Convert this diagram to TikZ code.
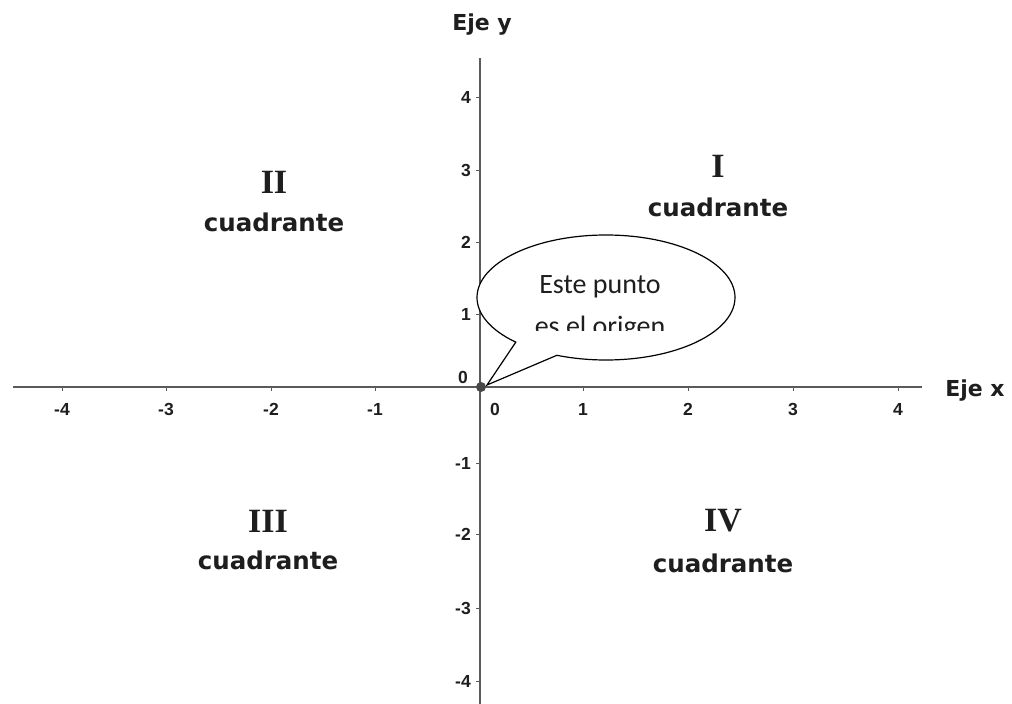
\documentclass[tikz,border=0pt]{standalone}
\usepackage{fontspec}
\newfontfamily\verdfont{DejaVu Sans}
\newfontfamily\arifont{Liberation Sans}
\newfontfamily\tnrfont{Liberation Serif}
\newfontfamily\carlfont{Carlito}
\usetikzlibrary{shapes.callouts}
\definecolor{axisgray}{HTML}{5A5A5A}
\definecolor{ink}{HTML}{1E1E1E}
\tikzset{
  axis/.style={draw=axisgray, line width=1.3pt},
  tick/.style={draw=axisgray, line width=0.9pt},
  ticklab/.style={font=\arifont\bfseries\fontsize{17.5}{17.5}\selectfont, text=ink, inner sep=0pt},
  axlab/.style={font=\verdfont\bfseries\fontsize{22}{22}\selectfont, text=ink, inner sep=0pt},
  roman/.style={font=\tnrfont\bfseries\fontsize{34}{34}\selectfont, text=ink, inner sep=0pt},
  quadlab/.style={font=\verdfont\bfseries\fontsize{24.5}{24.5}\selectfont, text=ink, inner sep=0pt},
  bubble/.style={ellipse callout, draw=black, fill=white, line width=1.2pt,
     minimum width=258pt, minimum height=125pt, inner sep=0pt, callout pointer arc=22},
  bubtext/.style={font=\carlfont\fontsize{28}{28}\selectfont, text=ink, inner sep=0pt, anchor=base},
}
\begin{document}
\begin{tikzpicture}[x=1pt,y=-1pt]
\useasboundingbox (0,0) rectangle (1012,704);
\fill[white] (0,0) rectangle (1012,704);
% axes
\coordinate (xl) at (13,387);
\coordinate (xr) at (922,387);
\coordinate (yt) at (480,58);
\coordinate (yb) at (480,704);
\draw[axis] (xl) -- (xr);
\draw[axis] (yt) -- (yb);
% x ticks
\foreach \v/\px in {-4/62,-3/166,-2/271,-1/375,1/583,2/688,3/793,4/898}{
  \coordinate (xt\v) at (\px,387);
  \draw[tick] (xt\v) -- ++(0,4);
  \node[ticklab] (xlab\v) at (\px,409) {\v};
}
\node[ticklab] (xlab0) at (495,409) {0};
% y ticks
\foreach \v/\py in {4/97,3/170,2/242,1/314,-1/463,-2/534,-3/608,-4/681}{
  \coordinate (yt\v) at (480,\py);
  \draw[tick] (yt\v) -- ++(-4,0);
  \node[ticklab, anchor=east] (ylab\v) at (471,\py) {\v};
}
\node[ticklab, anchor=east] (ylab0) at (468,377) {0};
% axis labels
\node[axlab] (ejey) at (482,25) {Eje y};
\node[axlab] (ejex) at (975,391) {Eje x};
% quadrants
\node[roman] (q1r) at (718,166) {I};
\node[quadlab] (q1) at (718,207) {cuadrante};
\node[roman] (q2r) at (274,182) {II};
\node[quadlab] (q2) at (274,222) {cuadrante};
\node[roman] (q3r) at (268,521) {III};
\node[quadlab] (q3) at (268,560) {cuadrante};
\node[roman] (q4r) at (723,521) {IV};
\node[quadlab] (q4) at (723,563) {cuadrante};
% origin and callout
\coordinate (tip) at (487,385);
\node[bubble, callout absolute pointer={(tip)}] (bub) at (606,297.5) {};
\fill[axisgray!80!black] (481,387) circle (5);
\node[bubtext] (t1) at (600,293) {Este punto};
\begin{scope}
  \clip (480,300) rectangle (740,330);
  \node[bubtext] (t2) at (600,335) {es el origen};
\end{scope}
\end{tikzpicture}
\end{document}
